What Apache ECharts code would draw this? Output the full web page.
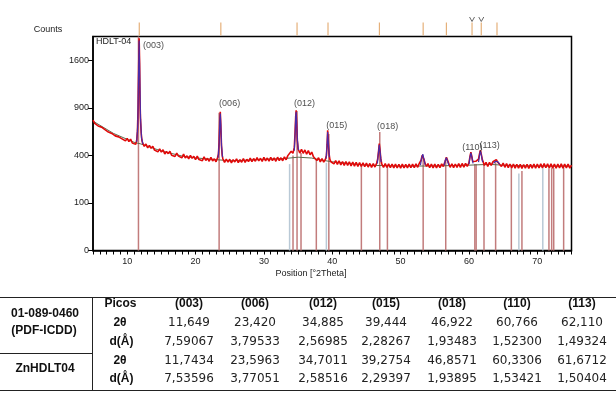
<!DOCTYPE html>
<html>
<head>
<meta charset="utf-8">
<script src="https://cdn.jsdelivr.net/npm/echarts@6/dist/echarts.min.js"></script>
<style>
html, body { margin: 0; padding: 0; background: #fff; }
#chart { width: 616px; height: 397px; }
</style>
</head>
<body>
<div id="chart"></div>
<script>
// measured scan: [2theta, counts]
var scan = [
  [5.00,752],[5.25,714],[5.50,725],[5.75,686],[6.00,705],[6.25,673],[6.50,688],[6.75,646],
  [7.00,653],[7.25,620],[7.50,640],[7.75,606],[8.00,622],[8.25,581],[8.50,597],[8.75,571],
  [9.00,590],[9.25,551],[9.50,562],[9.75,531],[10.00,555],[10.25,525],[10.50,548],[10.75,511],
  [11.00,524],[11.25,498],[11.40,540],[11.50,630],[11.60,900],[11.68,1500],[11.75,1990],[11.82,1560],
  [11.88,980],[11.95,760],[12.05,610],[12.15,540],[12.25,512],[12.50,480],[12.75,501],[13.00,466],
  [13.25,489],[13.50,462],[13.75,481],[14.00,446],[14.25,459],[14.50,430],[14.75,456],[15.00,428],
  [15.25,448],[15.50,412],[15.75,433],[16.00,415],[16.25,435],[16.50,401],[16.75,418],[17.00,391],
  [17.25,420],[17.50,394],[17.75,407],[18.00,380],[18.25,410],[18.50,379],[18.75,396],[19.00,371],
  [19.25,401],[19.50,376],[19.75,393],[20.00,364],[20.25,394],[20.50,366],[20.75,381],[21.00,357],
  [21.25,388],[21.50,358],[21.75,376],[22.00,352],[22.25,383],[22.50,355],[22.75,372],[23.00,348],
  [23.20,378],[23.35,410],[23.45,520],[23.55,760],[23.62,850],[23.70,690],[23.80,480],[23.90,400],
  [24.00,372],[24.25,344],[24.50,370],[24.75,345],[25.00,368],[25.25,340],[25.50,365],[25.75,347],
  [26.00,372],[26.25,341],[26.50,364],[26.75,345],[27.00,373],[27.25,344],[27.50,368],[27.75,350],
  [28.00,377],[28.25,349],[28.50,374],[28.75,352],[29.00,381],[29.25,355],[29.50,376],[29.75,351],
  [30.00,383],[30.25,356],[30.50,378],[30.75,353],[31.00,384],[31.25,357],[31.50,379],[31.75,352],
  [32.00,385],[32.25,358],[32.50,380],[32.75,356],[33.00,388],[33.25,364],[33.50,398],[33.75,390],
  [34.00,436],[34.25,418],[34.45,470],[34.55,600],[34.65,790],[34.72,870],[34.80,700],[34.90,530],
  [35.00,458],[35.25,420],[35.50,452],[35.75,418],[36.00,447],[36.25,410],[36.50,441],[36.75,405],
  [37.00,428],[37.25,388],[37.50,399],[37.75,358],[38.00,380],[38.25,347],[38.50,374],[38.75,345],
  [39.00,368],[39.15,400],[39.25,500],[39.33,640],[39.42,540],[39.52,420],[39.65,368],[39.80,348],
  [40.00,362],[40.25,332],[40.50,358],[40.75,328],[41.00,355],[41.25,324],[41.50,350],[41.75,320],
  [42.00,349],[42.25,320],[42.50,347],[42.75,317],[43.00,345],[43.25,315],[43.50,343],[43.75,313],
  [44.00,341],[44.25,312],[44.50,339],[44.75,310],[45.00,337],[45.25,308],[45.50,335],[45.75,306],
  [46.00,334],[46.25,308],[46.50,338],[46.65,370],[46.78,440],[46.88,505],[46.98,450],[47.10,375],
  [47.25,330],[47.50,306],[47.75,334],[48.00,305],[48.25,332],[48.50,303],[48.75,331],[49.00,302],
  [49.25,330],[49.50,301],[49.75,329],[50.00,300],[50.25,330],[50.50,301],[50.75,328],[51.00,302],
  [51.25,331],[51.50,303],[51.75,330],[52.00,304],[52.25,333],[52.50,306],[52.75,338],[53.00,360],
  [53.15,400],[53.25,415],[53.40,370],[53.60,332],[53.80,312],[54.00,334],[54.25,303],[54.50,331],
  [54.75,302],[55.00,330],[55.25,301],[55.50,329],[55.75,303],[56.00,332],[56.25,312],[56.50,350],
  [56.70,385],[56.90,355],[57.10,326],[57.25,306],[57.50,333],[57.75,304],[58.00,331],[58.25,305],
  [58.50,334],[58.75,306],[59.00,335],[59.25,307],[59.50,336],[59.75,313],[60.00,340],[60.15,390],
  [60.28,428],[60.40,395],[60.55,350],[60.75,338],[61.00,352],[61.20,345],[61.40,370],[61.55,415],
  [61.68,445],[61.80,410],[61.95,365],[62.10,345],[62.25,320],[62.50,343],[62.75,312],[63.00,344],
  [63.25,320],[63.50,348],[63.75,352],[64.00,365],[64.25,342],[64.50,345],[64.75,312],[65.00,338],
  [65.25,306],[65.50,334],[65.75,304],[66.00,331],[66.25,301],[66.50,330],[66.75,300],[67.00,329],
  [67.25,299],[67.50,328],[67.75,298],[68.00,327],[68.25,299],[68.50,329],[68.75,297],[69.00,328],
  [69.25,300],[69.50,330],[69.75,299],[70.00,331],[70.25,301],[70.50,333],[70.75,302],[71.00,334],
  [71.25,303],[71.50,333],[71.75,301],[72.00,332],[72.25,300],[72.50,331],[72.75,299],[73.00,330],
  [73.25,301],[73.50,332],[73.75,300],[74.00,331],[74.25,302],[74.50,330],[74.75,300],[75.00,322]
];

// fitted background under the pattern
var background = [
  [5,740],[8,606],[11,518],[12,502],[15,438],[18,395],[20,379],[25,356],[28,362],[30,368],
  [33,374],[35,385],[37,378],[38,365],[40,348],[45,322],[50,315],[55,316],[60,322],[63,328],
  [65,322],[70,315],[75,315]
];

// fitted peak profiles (null breaks between peaks)
var fitPeaks = [
  [11.40,520],[11.55,700],[11.65,1300],[11.75,1950],[11.85,1300],[11.95,780],[12.10,560],[12.30,500],null,
  [23.30,380],[23.45,500],[23.55,740],[23.62,830],[23.70,700],[23.80,490],[23.95,385],null,
  [34.45,440],[34.58,620],[34.66,800],[34.72,850],[34.80,720],[34.90,540],[35.05,445],null,
  [39.10,372],[39.22,470],[39.33,620],[39.44,500],[39.58,385],null,
  [46.60,335],[46.75,420],[46.88,495],[47.00,430],[47.15,345],null,
  [52.90,322],[53.10,385],[53.25,410],[53.40,372],[53.60,325],null,
  [56.35,320],[56.55,360],[56.70,380],[56.85,355],[57.05,322],null,
  [60.00,330],[60.15,385],[60.28,422],[60.42,388],[60.60,335],null,
  [61.40,345],[61.55,405],[61.68,438],[61.82,400],[62.00,345],null,
  [63.60,335],[63.85,352],[64.00,356],[64.20,350],[64.50,330]
];

// reference pattern sticks [2theta, counts]
var refSticks = [
  [11.65,2025],[23.45,840],[34.26,400],[34.85,860],[35.43,420],[37.67,370],[39.50,600],[44.26,330],
  [46.95,620],[48.07,310],[53.30,400],[56.60,370],[60.86,330],[61.05,330],[62.20,330],[63.90,345],
  [66.20,305],[67.75,280],[71.70,300],[72.10,300],[72.40,300],[73.85,305]
];
var refSticksFaint = [[33.76,330],[39.14,340],[67.30,262],[70.80,300]];

var topMarkers = [11.77, 23.70, 34.85, 39.38, 46.90, 53.30, 56.70, 60.45, 61.80, 64.10];
var checkedMarkers = [60.45, 61.80];

var xTickLabels = [10, 20, 30, 40, 50, 60, 70];
var yTickLabels = [0, 100, 400, 900, 1600];

// table data
var peakNames = ['(003)', '(006)', '(012)', '(015)', '(018)', '(110)', '(113)'];
var peakCounts = [1990, 850, 870, 640, 505, 428, 445];
var pdfTheta = [11.649, 23.420, 34.885, 39.444, 46.922, 60.766, 62.110];
var pdfD = [7.59067, 3.79533, 2.56985, 2.28267, 1.93483, 1.52300, 1.49324];
var znTheta = [11.7434, 23.5963, 34.7011, 39.2754, 46.8571, 60.3306, 61.6712];
var znD = [7.53596, 3.77051, 2.58516, 2.29397, 1.93895, 1.53421, 1.50404];

var myChart = echarts.init(document.getElementById('chart'), null, { renderer: 'canvas' });

function sq(p) { return p ? [p[0], Math.sqrt(p[1])] : null; }
function dec(v, n) { return v.toFixed(n).replace('.', ','); }

var font = 'Liberation Sans';

// peak label placement (style only)
var labelPlace = [
  { position: 'right', distance: 4, offset: [0, 7] },
  { position: 'top', distance: 4, align: 'left', offset: [-1, 0] },
  { position: 'top', distance: 2, align: 'left', offset: [-2, 0] },
  { position: 'top', distance: 0, align: 'left', offset: [-1, 0] },
  { position: 'top', distance: 13, align: 'left', offset: [-2, 0] },
  { position: 'top', distance: 0, align: 'left', offset: [-9, 0] },
  { position: 'top', distance: 0, align: 'left', offset: [-1, 0] }
];

var peakLabelData = peakNames.map(function (n, i) {
  return {
    name: n,
    value: [znTheta[i], Math.sqrt(peakCounts[i])],
    label: labelPlace[i]
  };
});

function stickRender(color) {
  return function (params, api) {
    var top = api.coord([api.value(0), api.value(1)]);
    var base = api.coord([api.value(0), 0]);
    return {
      type: 'line',
      shape: { x1: top[0], y1: top[1], x2: base[0], y2: base[1] },
      style: { stroke: color, lineWidth: 1.5 }
    };
  };
}

// table
var colX = [189, 255, 323, 386, 452, 517, 582];
var rowY = [304, 322.5, 341.5, 361, 378.5];
var boldFont = 'bold 12px "Liberation Sans"';
var valFont = '12px "DejaVu Sans"';
var graphics = [];
function txt(s, x, y, f, c) {
  graphics.push({ type: 'text', x: x, y: y, style: { text: s, font: f, fill: c || '#222', align: 'center', verticalAlign: 'middle' } });
}
function hline(x1, x2, y) {
  graphics.push({ type: 'line', shape: { x1: x1, y1: y, x2: x2, y2: y }, style: { stroke: '#222', lineWidth: 1 } });
}
hline(0, 616, 297.5);
hline(0, 616, 390.5);
hline(0, 92, 353.5);
graphics.push({ type: 'line', shape: { x1: 92.5, y1: 297.5, x2: 92.5, y2: 390.5 }, style: { stroke: '#222', lineWidth: 1 } });

txt('01-089-0460', 45, 313.5, boldFont, '#111');
txt('(PDF-ICDD)', 44, 330.5, boldFont, '#111');
txt('ZnHDLT04', 45, 368.5, boldFont, '#111');
txt('Picos', 120.5, rowY[0], boldFont, '#111');
txt('2θ', 120, rowY[1], boldFont, '#111');
txt('d(Å)', 121.5, rowY[2], boldFont, '#111');
txt('2θ', 120, rowY[3], boldFont, '#111');
txt('d(Å)', 121.5, rowY[4], boldFont, '#111');
peakNames.forEach(function (n, i) {
  txt(n, colX[i], rowY[0], boldFont, '#111');
  txt(dec(pdfTheta[i], 3), colX[i], rowY[1], valFont);
  txt(dec(pdfD[i], 5), colX[i], rowY[2], valFont);
  txt(dec(znTheta[i], 4), colX[i], rowY[3], valFont);
  txt(dec(znD[i], 5), colX[i], rowY[4], valFont);
});

// chart texts
graphics.push({ type: 'text', x: 48, y: 30, style: { text: 'Counts', font: '9px "Liberation Sans"', fill: '#222', align: 'center', verticalAlign: 'middle' } });
graphics.push({ type: 'text', x: 96, y: 42, style: { text: 'HDLT-04', font: '9px "Liberation Sans"', fill: '#222', align: 'left', verticalAlign: 'middle' } });
graphics.push({ type: 'text', x: 311, y: 273.5, style: { text: 'Position [°2Theta]', font: '9px "Liberation Sans"', fill: '#222', align: 'center', verticalAlign: 'middle' } });

var option = {
  animation: false,
  backgroundColor: '#fff',
  grid: {
    left: 93, right: 44.5, top: 36.5, bottom: 146.5,
    show: true, borderColor: '#000', borderWidth: 1.5, backgroundColor: 'transparent'
  },
  xAxis: {
    type: 'value', min: 5, max: 75, interval: 5,
    axisLine: { lineStyle: { color: '#000', width: 1.5 } },
    axisTick: { show: true, length: 4, lineStyle: { color: '#000' } },
    minorTick: { show: true, splitNumber: 5, length: 4, lineStyle: { color: '#000' } },
    axisLabel: { customValues: xTickLabels, fontFamily: font, fontSize: 9, color: '#222', margin: 7 },
    splitLine: { show: false }
  },
  yAxis: {
    type: 'value', min: 0, max: 45, interval: 10,
    axisLine: { show: true, lineStyle: { color: '#000', width: 1.5 } },
    axisTick: { show: true, length: 5, customValues: yTickLabels.map(Math.sqrt), lineStyle: { color: '#000' } },
    axisLabel: {
      customValues: yTickLabels.map(Math.sqrt),
      fontFamily: font, fontSize: 9, color: '#222', margin: 4,
      formatter: function (v) { return String(Math.round(v * v)); }
    },
    splitLine: { show: false }
  },
  graphic: graphics,
  series: [
    {
      name: 'ref faint', type: 'custom', z: 1,
      data: refSticksFaint.map(sq), renderItem: stickRender('#b9c9d6')
    },
    {
      name: 'ref', type: 'custom', z: 1,
      data: refSticks.map(sq), renderItem: stickRender('#c27c7c')
    },
    {
      name: 'background', type: 'line', z: 2, symbol: 'none',
      data: background.map(sq), lineStyle: { color: '#5c6a4c', width: 1 }
    },
    {
      name: 'scan', type: 'line', z: 3, symbol: 'none',
      data: scan.map(sq), lineStyle: { color: '#e00a0a', width: 1.6 }
    },
    {
      name: 'fit', type: 'line', z: 4, symbol: 'none', connectNulls: false,
      data: fitPeaks.map(sq), lineStyle: { color: '#4a2aa8', width: 1.2 }
    },
    {
      name: 'peaks', type: 'scatter', z: 5, symbolSize: 0,
      data: peakLabelData,
      label: { show: true, formatter: '{b}', fontFamily: font, fontSize: 9, color: '#222' }
    },
    {
      name: 'markers', type: 'custom', z: 5, clip: false,
      data: topMarkers.map(function (x) { return [x, 0]; }),
      renderItem: function (params, api) {
        var p = api.coord([api.value(0), 0]);
        var top = params.coordSys.y;
        var children = [{
          type: 'line',
          shape: { x1: p[0], y1: top - 1, x2: p[0], y2: top - 14 },
          style: { stroke: '#e5b07a', lineWidth: 1.2 }
        }];
        if (checkedMarkers.indexOf(api.value(0)) >= 0) {
          children.push({
            type: 'polyline',
            shape: { points: [[p[0] - 2.5, top - 19.5], [p[0], top - 15], [p[0] + 2.5, top - 19.5]] },
            style: { stroke: '#666', lineWidth: 1, fill: null }
          });
        }
        return { type: 'group', children: children };
      }
    }
  ]
};

myChart.setOption(option);
</script>
</body>
</html>
